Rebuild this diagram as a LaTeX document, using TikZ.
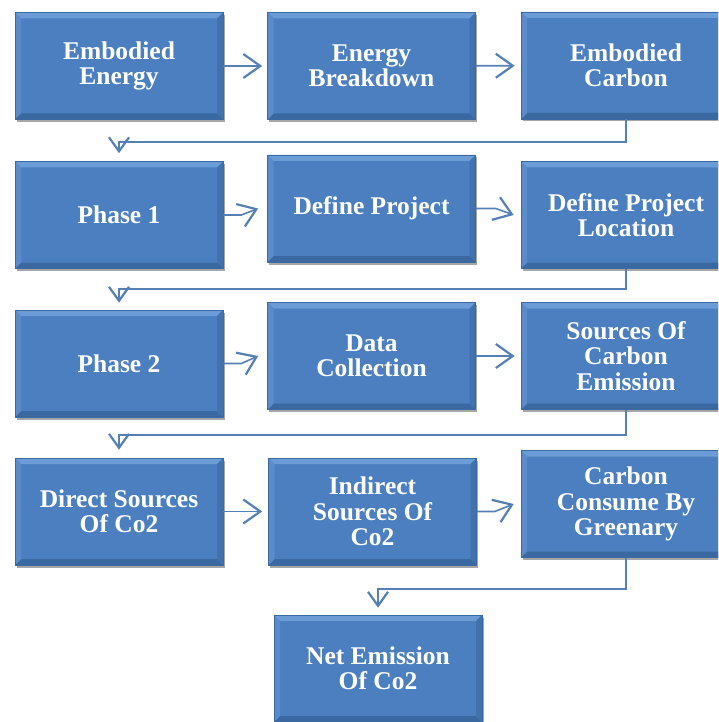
\documentclass[tikz,border=0pt]{standalone}
\usepackage{fontspec}
\setmainfont{Liberation Serif}
\usetikzlibrary{arrows.meta,shadows}
\definecolor{boxface}{HTML}{4C7FBF}
\definecolor{boxedge}{HTML}{3B6AA3}
\definecolor{bevtop}{HTML}{6C9CD6}
\definecolor{bevbot}{HTML}{3A68A0}
\definecolor{bevleft}{HTML}{5A8CCB}
\definecolor{bevright}{HTML}{4272AE}
\definecolor{linecol}{HTML}{5580B5}
\tikzset{
  blk/.style={draw=boxedge, line width=0.6pt, fill=boxface, text=white,
    font=\bfseries\fontsize{25.5}{25.5}\selectfont, align=center,
    minimum width=208pt, minimum height=107pt, inner sep=2pt,
    drop shadow={shadow xshift=1.5pt, shadow yshift=-2.5pt, opacity=0.35, fill=black},
    path picture={
      \coordinate (pnw) at (path picture bounding box.north west);
      \coordinate (pne) at (path picture bounding box.north east);
      \coordinate (psw) at (path picture bounding box.south west);
      \coordinate (pse) at (path picture bounding box.south east);
      \fill[bevtop] (pnw) -- (pne) -- ([xshift=-6pt,yshift=-6pt]pne) -- ([xshift=6pt,yshift=-6pt]pnw) -- cycle;
      \fill[bevbot] (psw) -- (pse) -- ([xshift=-6pt,yshift=6pt]pse) -- ([xshift=6pt,yshift=6pt]psw) -- cycle;
      \fill[bevleft] (pnw) -- ([xshift=6pt,yshift=-6pt]pnw) -- ([xshift=6pt,yshift=6pt]psw) -- (psw) -- cycle;
      \fill[bevright] (pne) -- ([xshift=-6pt,yshift=-6pt]pne) -- ([xshift=-6pt,yshift=6pt]pse) -- (pse) -- cycle;
    }},
  wideblk/.style={blk, minimum width=210pt},
  conn/.style={draw=linecol, line width=1.6pt, -{Straight Barb[length=17pt,width=24pt,line width=2.2pt]}},
  vconn/.style={draw=linecol, line width=1.6pt, -{Straight Barb[length=14pt,width=20pt,line width=2.2pt]}}
}
\begin{document}
\begin{tikzpicture}[x=1pt,y=-1pt]
\useasboundingbox (0,0) rectangle (718,722);
\clip (0,0) rectangle (718,722);
\fill[white] (0,0) rectangle (718,722);

\node[blk] (A1) at (119,66) {Embodied\\Energy};
\node[blk] (A2) at (371.5,66) {Energy\\Breakdown};
\node[wideblk] (A3) at (626,65.5) {Embodied\\Carbon};

\node[blk] (B1) at (119,215) {Phase 1};
\node[blk] (B2) at (371.5,208.5) {Define Project};
\node[wideblk] (B3) at (626,215) {Define Project\\Location};

\node[blk] (C1) at (119,363.5) {Phase 2};
\node[blk] (C2) at (371.5,356) {Data\\Collection};
\node[wideblk] (C3) at (626,356) {Sources Of\\Carbon\\Emission};

\node[blk] (D1) at (119,511.5) {Direct Sources\\Of Co2};
\node[blk] (D2) at (372.5,511.5) {Indirect\\Sources Of\\Co2};
\node[wideblk] (D3) at (626,504) {Carbon\\Consume By\\Greenary};

\node[blk] (E) at (378,668.5) {Net Emission\\Of Co2};

\draw[conn, shorten >=5pt] (A1) -- (A2);
\draw[conn, shorten >=6pt] (A2) -- (A3);
\draw[vconn, shorten >=8pt] (A3.south) -- ++(0,23) -| (B1.north);

\draw[conn] (B1.east) -- ++(18,0) -- ([xshift=-9pt]B2.west);
\draw[conn] (B2.east) -- ++(20,0) -- ([xshift=-7pt]B3.west);
\draw[vconn, shorten >=7pt] (B3.south) -- ++(0,20) -| (C1.north);

\draw[conn] (C1.east) -- ++(18,0) -- ([xshift=-9pt]C2.west);
\draw[conn, shorten >=6pt] (C2) -- (C3);
\draw[vconn, shorten >=8pt] (C3.south) -- ++(0,25) -| (D1.north);

\draw[conn, shorten >=6pt] (D1) -- (D2);
\draw[conn] (D2.east) -- ++(18,0) -- ([xshift=-7pt]D3.west);
\draw[vconn, shorten >=7pt] (D3.south) -- ++(0,31) -| (E.north);
\end{tikzpicture}
\end{document}
